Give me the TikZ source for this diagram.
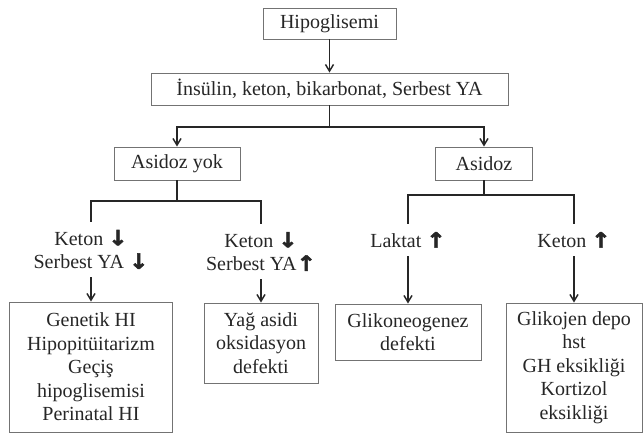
\documentclass[tikz,border=0pt]{standalone}
\usepackage{fontspec}
\setmainfont{Liberation Serif}
\newfontfamily\okfont{DejaVu Sans Bold}[FakeBold=2.5]
\usetikzlibrary{arrows.meta, positioning}

% heavy arrows for decrease / increase
\newcommand{\azal}{{\okfont\scalebox{1.15}[1.05]{↓}}}
\newcommand{\artis}{{\okfont\scalebox{1.15}[1.05]{↑}}}

\begin{document}
\begin{tikzpicture}[
	x=0.75pt, y=-0.75pt,
	font=\fontsize{15}{17.6}\selectfont,
	>={Straight Barb[length=5pt,width=6pt]},
	% Style for framed boxes
	box/.style={rectangle, draw=black!55, line width=0.7pt, align=center, inner sep=0pt, text=black!85},
	% Style for the labels under the branches
	lbl/.style={align=center, inner xsep=2pt, inner ysep=6pt, text=black!85},
	% Style for connectors
	link/.style={draw=black!85, line width=1.1pt}
	]
	\useasboundingbox (0,0) rectangle (643,435);
	
	% 1. Top boxes
	\node[box, minimum width=99.75pt, minimum height=23.25pt] (hipo) at (329.5,23.5) {Hipoglisemi};
	\node[box, minimum width=267.75pt, minimum height=24pt] (panel) at (329.5,89) {İnsülin, keton, bikarbonat, Serbest YA};
	
	% 2. Acidosis split
	\node[box, minimum width=94.5pt, minimum height=24.75pt] (noacid) at (177,163.5) {Asidoz yok};
	\node[box, minimum width=72.75pt, minimum height=24.75pt] (acid) at (484,163.5) {Asidoz};
	
	% 3. Labels under the branches
	\node[lbl] (lab1) at (91,249.5) {Keton \azal\\Serbest YA \azal};
	\node[lbl] (lab2) at (261,251.5) {Keton \azal\\Serbest YA\artis};
	\node[lbl] (lab3) at (408,240) {Laktat \artis};
	\node[lbl] (lab4) at (574,240) {Keton \artis};
	
	% 4. Result boxes
	\node[box, minimum width=122.25pt, minimum height=97.5pt] (res1) at (91,367) {Genetik HI\\Hipopitüitarizm\\Geçiş\\hipoglisemisi\\Perinatal HI};
	\node[box, minimum width=85.5pt, minimum height=60pt] (res2) at (261,343) {Yağ asidi\\oksidasyon\\defekti};
	\node[box, minimum width=109.5pt, minimum height=42pt] (res3) at (408,332) {Glikoneogenez\\defekti};
	\node[box, minimum width=102pt, minimum height=96.75pt] (res4) at (574,367.5) {Glikojen depo\\hst\\GH eksikliği\\Kortizol\\eksikliği};
	
	% 5. Connectors
	\coordinate (split0) at (329.5,127);
	\coordinate (split1) at (177,201);
	\coordinate (split2) at (484,195);
	\draw[link, ->] (hipo) -- (panel);
	\draw[link] (panel) -- (split0);
	\draw[link, <->] (noacid.north) |- (split0) -| (acid.north);
	\draw[link] (noacid) -- (split1);
	\draw[link] (lab1.north) |- (split1) -| (lab2.north);
	\draw[link] (acid) -- (split2);
	\draw[link] (lab3.north) |- (split2) -| (lab4.north);
	
	% 6. Arrows into the results
	\draw[link, ->] (lab1) -- (res1);
	\draw[link, ->] (lab2) -- (res2);
	\draw[link, ->] (lab3) -- (res3);
	\draw[link, ->] (lab4) -- (res4);
	
\end{tikzpicture}
\end{document}
